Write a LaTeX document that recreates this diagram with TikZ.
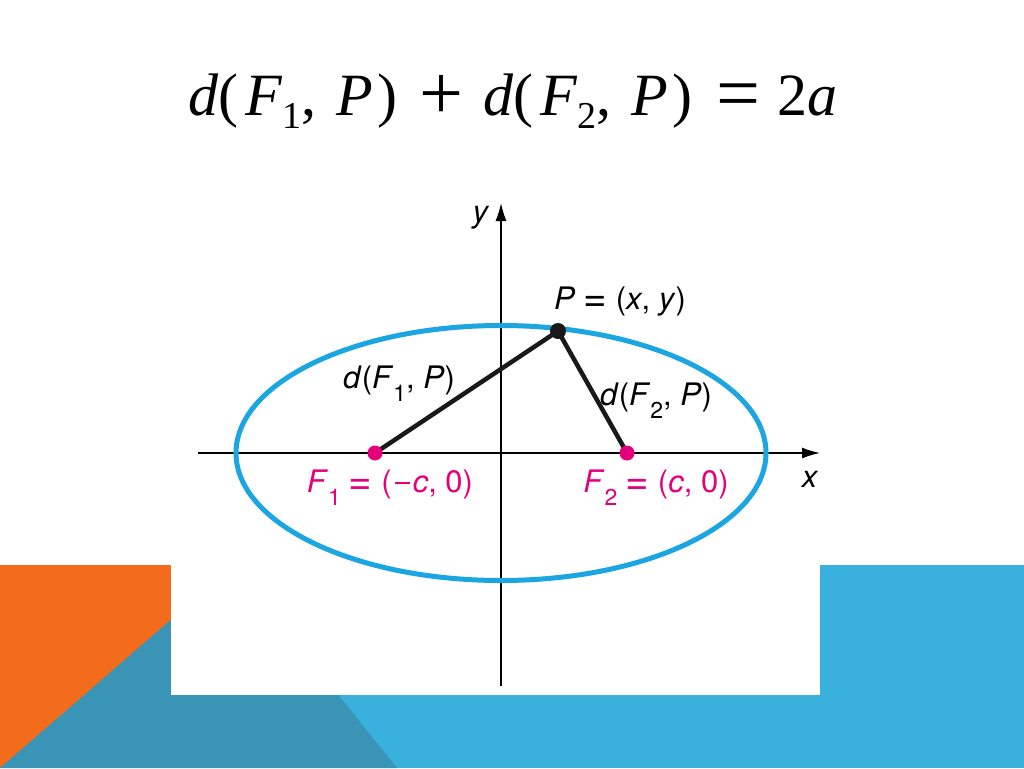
\documentclass[tikz,border=0pt]{standalone}
\usepackage{fontspec}
\usepackage{graphicx}
\setsansfont{TeX Gyre Heros}
\newfontfamily\titlefont{Liberation Serif}
\usetikzlibrary{arrows.meta,positioning}

\definecolor{slideorange}{HTML}{F36C1C}
\definecolor{slideteal}{HTML}{3A94B5}
\definecolor{slideblue}{HTML}{3AB0DD}
\definecolor{ellipseblue}{HTML}{1BA6E1}
\definecolor{focusmagenta}{HTML}{E4007C}

\newcommand\lowidx[1]{\raisebox{-0.42em}{\fontsize{23}{23}\selectfont #1}}
\newcommand\titleidx[1]{\raisebox{-0.22em}{\fontsize{38}{38}\selectfont #1}}
\newcommand\minussign{\hspace{3pt}\raisebox{0.26em}{\rule{15pt}{2.2pt}}\hspace{3pt}}
\newcommand\bigsym[1]{\raisebox{-0.08em}{\scalebox{1.3}{#1}}}
\newcommand\wideeq{\hspace{8pt}\bigsym{=}\hspace{9pt}}

\tikzset{x=1pt, y=-1pt, % one unit is one pixel of the slide
        axis/.style={ % Coordinate axes
            draw, line width=1.4pt,
            -{Latex[length=18pt,width=11pt]}},
        curve/.style={ % The ellipse itself
            draw=ellipseblue, line width=5pt},
        segment/.style={ % Distances from the foci to P
            draw=black!90, line width=4.5pt},
        focus/.style={ % Pink dots at the foci
            circle, fill=focusmagenta, inner sep=0pt, minimum size=15pt},
        pointdot/.style={ % Black dot at P
            circle, fill=black!90, inner sep=0pt, minimum size=16pt},
        lbl/.style={ % Sans labels of the figure
            anchor=base, inner sep=0pt,
            font=\sffamily\fontsize{31}{31}\selectfont},
        title/.style={ % The formula at the top
            anchor=base west, inner sep=0pt,
            font=\titlefont\fontsize{60}{60}\selectfont}
        }

\begin{document}
\begin{tikzpicture}
    % slide background
    \fill[white] (0,0) rectangle (1024,768);
    \fill[slideblue] (0,565) rectangle (1024,768);
    \fill[slideorange] (0,565) rectangle (171,768);
    \fill[slideteal] (0,768) -- (234,565) -- (397,768) -- cycle;
    \fill[white] (171,200) rectangle (820,695);

    \node[title] (formula) at (188,115)
        {\textit{d}(\hspace{7pt}\textit{F}\titleidx{1},\hspace{20pt}\textit{P}\hspace{4pt})\hspace{22pt}\bigsym{+}\hspace{20pt}\textit{d}(\hspace{7pt}\textit{F}\titleidx{2},\hspace{20pt}\textit{P}\hspace{4pt})\hspace{24pt}\bigsym{=}\hspace{18pt}2\textit{a}};

    \coordinate (O) at (501,453);
    \coordinate (xstart) at (198,453);
    \coordinate (xend) at (820,453);
    \coordinate (ystart) at (501,686);
    \coordinate (yend) at (501,203);
    \coordinate (f1) at (375,453);
    \coordinate (f2) at (627,453);
    \coordinate (p) at (558,331);

    \draw[axis] (xstart) -- (xend);
    \draw[axis] (ystart) -- (yend);
    \draw[curve] (O) ellipse [x radius=265pt, y radius=127.5pt];

    \draw[segment] (f1) -- (p);
    \draw[segment] (f2) -- (p);
    \node[focus] (F1) at (f1) {};
    \node[focus] (F2) at (f2) {};
    \node[pointdot] (P) at (p) {};

    \node[lbl] (ylabel) at (481,222) {\textit{y}};
    \node[lbl] (xlabel) at (810,487) {\textit{x}};
    \node[lbl] (plabel) at (620,309) {\textit{P}\wideeq(\textit{x}, \textit{y})};
    \node[lbl] (d1label) at (399,388) {\textit{d}(\textit{F}\lowidx{1}, \textit{P})};
    \node[lbl] (d2label) at (656,405) {\textit{d}(\textit{F}\lowidx{2}, \textit{P})};
    \node[lbl, text=focusmagenta] (f1label) at (390,492) {\textit{F}\lowidx{1}\wideeq(\minussign\textit{c}, 0)};
    \node[lbl, text=focusmagenta] (f2label) at (656,492) {\textit{F}\lowidx{2}\wideeq(\textit{c}, 0)};
\end{tikzpicture}
\end{document}
